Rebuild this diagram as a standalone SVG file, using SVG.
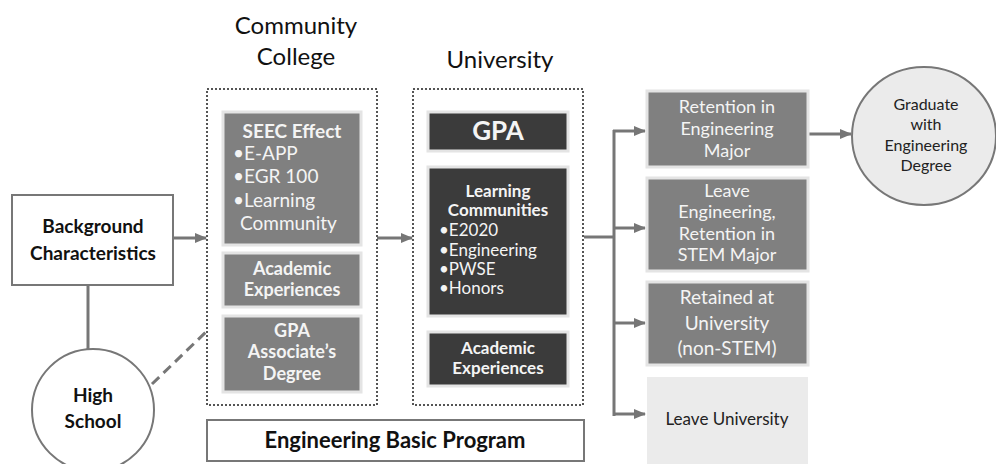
<svg xmlns="http://www.w3.org/2000/svg" width="996" height="464" viewBox="0 0 996 464">
  <defs>
    <marker id="arrow" markerUnits="userSpaceOnUse" markerWidth="12" markerHeight="10" refX="11" refY="5" orient="auto">
      <path d="M0,0 L12,5 L0,10 Z" fill="#767676"/>
    </marker>
    <style>
      text { font-family: Lato, "Open Sans", "Liberation Sans", sans-serif; text-anchor: middle; }
      .title { font-size: 24px; fill: #111; }
      .dotted { fill: none; stroke: #555; stroke-width: 2; stroke-dasharray: 2 2; }
      .mid { fill: #808080; stroke: #e4e4e4; stroke-width: 3; }
      .dark { fill: #3b3b3b; stroke: #e4e4e4; stroke-width: 3; }
      .light { fill: #ebebeb; }
      .outline { fill: #fff; stroke: #777; stroke-width: 2; }
      .wb { fill: #f4f4f4; font-weight: bold; }
      .wn { fill: #f4f4f4; }
      .kb { fill: #111; font-weight: bold; }
      .kn { fill: #222; }
      .left { text-anchor: start; }
      .conn { fill: none; stroke: #767676; stroke-width: 3; }
    </style>
  </defs>

  <!-- column headings -->
  <text class="title" x="296" y="34">Community</text>
  <text class="title" x="296" y="65">College</text>
  <text class="title" x="500" y="68">University</text>

  <!-- connectors -->
  <g id="connectors">
    <line class="conn" x1="173" y1="238" x2="206" y2="238" marker-end="url(#arrow)"/>
    <line class="conn" x1="377" y1="238" x2="412" y2="238" marker-end="url(#arrow)"/>
    <line class="conn" x1="584" y1="237" x2="614" y2="237"/>
    <line class="conn" x1="614" y1="130" x2="614" y2="416"/>
    <line class="conn" x1="613" y1="131" x2="645" y2="131" marker-end="url(#arrow)"/>
    <line class="conn" x1="614" y1="228" x2="645" y2="228" marker-end="url(#arrow)"/>
    <line class="conn" x1="614" y1="323" x2="645" y2="323" marker-end="url(#arrow)"/>
    <line class="conn" x1="613" y1="414" x2="645" y2="414" marker-end="url(#arrow)"/>
    <line class="conn" x1="809" y1="134" x2="851" y2="134" marker-end="url(#arrow)"/>
    <line class="conn" x1="88" y1="285" x2="88" y2="349"/>
    <line class="conn" x1="152" y1="384" x2="207" y2="331" stroke-dasharray="10 6"/>
  </g>

  <!-- background characteristics -->
  <g id="background">
    <rect class="outline" x="12" y="195" width="161" height="90"/>
    <text class="kb" x="93" y="233" font-size="19">Background</text>
    <text class="kb" x="93" y="260" font-size="19">Characteristics</text>
  </g>

  <!-- high school -->
  <g id="high-school">
    <circle class="outline" cx="93" cy="410" r="61"/>
    <text class="kb" x="93" y="402" font-size="19">High</text>
    <text class="kb" x="93" y="428" font-size="19">School</text>
  </g>

  <!-- community college -->
  <g id="community-college">
    <rect class="dotted" x="207" y="89" width="170" height="316"/>
  </g>
  <g id="seec-effect">
    <rect class="mid" x="223" y="112" width="138" height="133"/>
    <text class="wb" x="292" y="138" font-size="19">SEEC Effect</text>
    <text class="wn left" x="233" y="160" font-size="19">•E-APP</text>
    <text class="wn left" x="233" y="183" font-size="19">•EGR 100</text>
    <text class="wn left" x="233" y="207" font-size="19">•Learning</text>
    <text class="wn left" x="240" y="230" font-size="19">Community</text>
  </g>
  <g id="cc-academic-experiences">
    <rect class="mid" x="223" y="253" width="138" height="54"/>
    <text class="wb" x="292" y="275" font-size="18">Academic</text>
    <text class="wb" x="292" y="296" font-size="18">Experiences</text>
  </g>
  <g id="cc-gpa">
    <rect class="mid" x="223" y="316" width="138" height="76"/>
    <text class="wb" x="292" y="337" font-size="18">GPA</text>
    <text class="wb" x="292" y="358" font-size="18">Associate’s</text>
    <text class="wb" x="292" y="380" font-size="18">Degree</text>
  </g>

  <!-- university -->
  <g id="university">
    <rect class="dotted" x="413" y="89" width="170" height="316"/>
  </g>
  <g id="uni-gpa">
    <rect class="dark" x="428" y="112" width="140" height="39"/>
    <text class="wb" x="498" y="140" font-size="26">GPA</text>
  </g>
  <g id="learning-communities">
    <rect class="dark" x="428" y="167" width="140" height="149"/>
    <text class="wb" x="498" y="197" font-size="17">Learning</text>
    <text class="wb" x="498" y="216" font-size="17">Communities</text>
    <text class="wn left" x="439" y="236" font-size="17">•E2020</text>
    <text class="wn left" x="439" y="256" font-size="17">•Engineering</text>
    <text class="wn left" x="439" y="275" font-size="17">•PWSE</text>
    <text class="wn left" x="439" y="294" font-size="17">•Honors</text>
  </g>
  <g id="uni-academic-experiences">
    <rect class="dark" x="428" y="332" width="140" height="54"/>
    <text class="wb" x="498" y="354" font-size="17">Academic</text>
    <text class="wb" x="498" y="374" font-size="17">Experiences</text>
  </g>

  <!-- engineering basic program -->
  <g id="engineering-basic-program">
    <rect class="outline" x="207" y="420" width="377" height="41"/>
    <text class="kb" x="395" y="448" font-size="22">Engineering Basic Program</text>
  </g>

  <!-- outcomes -->
  <g id="retention-engineering">
    <rect class="mid" x="647" y="91" width="161" height="76"/>
    <text class="wn" x="727" y="113" font-size="18">Retention in</text>
    <text class="wn" x="727" y="135" font-size="18">Engineering</text>
    <text class="wn" x="727" y="157" font-size="18">Major</text>
  </g>
  <g id="retention-stem">
    <rect class="mid" x="647" y="178" width="161" height="93"/>
    <text class="wn" x="727" y="197" font-size="18">Leave</text>
    <text class="wn" x="727" y="218" font-size="18">Engineering,</text>
    <text class="wn" x="727" y="240" font-size="18">Retention in</text>
    <text class="wn" x="727" y="261" font-size="18">STEM Major</text>
  </g>
  <g id="retained-university">
    <rect class="mid" x="647" y="282" width="161" height="83"/>
    <text class="wn" x="727" y="304" font-size="19">Retained at</text>
    <text class="wn" x="727" y="330" font-size="19">University</text>
    <text class="wn" x="727" y="355" font-size="19">(non-STEM)</text>
  </g>
  <g id="leave-university">
    <rect class="light" x="647" y="377" width="161" height="87"/>
    <text class="kn" x="727" y="425" font-size="17">Leave University</text>
  </g>

  <!-- graduation -->
  <g id="graduate">
    <ellipse cx="924" cy="136" rx="72" ry="69" fill="#ebebeb" stroke="#777" stroke-width="2"/>
    <text class="kn" x="926" y="110" font-size="16">Graduate</text>
    <text class="kn" x="926" y="130" font-size="16">with</text>
    <text class="kn" x="926" y="151" font-size="16">Engineering</text>
    <text class="kn" x="926" y="171" font-size="16">Degree</text>
  </g>
</svg>
